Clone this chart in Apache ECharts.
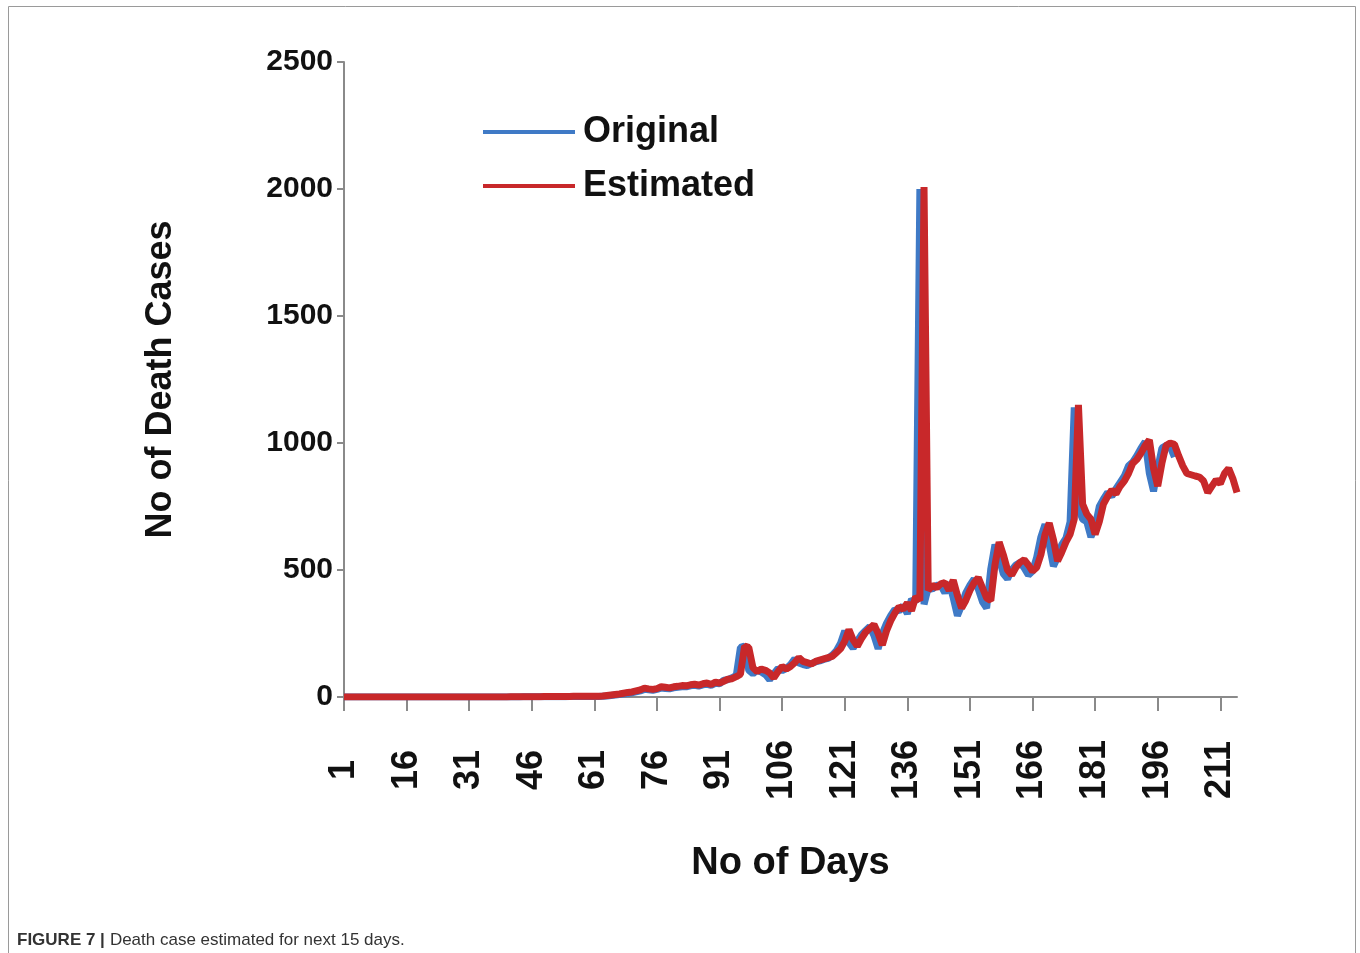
<!DOCTYPE html>
<html>
<head>
<meta charset="utf-8">
<script src="https://cdn.jsdelivr.net/npm/echarts@6/dist/echarts.min.js"></script>
<style>
html,body{margin:0;padding:0;background:#fff;}
#chart{width:1360px;height:953px;}
</style>
</head>
<body>
<div id="chart"></div>
<script>
// Days 1..215 (category axis)
const days = [];
for (let d = 1; d <= 215; d++) days.push(String(d));

const yTicks = [0, 500, 1000, 1500, 2000, 2500];

// Original death cases (days 1..200)
const original = [
  0,0,0,0,0,0,0,0,0,0, 0,0,0,0,0,0,0,0,0,0,
  0,0,0,0,0,0,0,0,0,0, 0,0,0,0,0,0,0,0,0,0,
  0,0,0,1,1,1,1,1,1,1, 1,1,1,1,2,2,2,2,2,2,
  2,
  2,3,4,6,8,10,12,14,17,20,24,30,28,26,30,35,33,32,36,38,40,40,44,46,43,48,50,46,54,52,
  66,68,76,85,195,200,105,92,105,98,88,68,92,112,104,112,128,150,134,128,
  124,132,138,142,148,152,165,182,212,260,215,192,220,245,262,278,242,190,250,290,
  320,345,338,360,328,385,372,2000,365,430,425,440,440,410,450,390,320,360,410,440,
  465,425,375,350,505,600,545,485,465,500,520,530,508,480,495,550,630,680,600,515,
  550,600,625,690,1140,740,700,690,630,670,750,780,805,790,820,845,870,910,925,950,
  980,1005,880,810,900,980,990,985,945
];

// Estimated death cases (days 1..215)
const estimated = [
  0,0,0,0,0,0,0,0,0,0, 0,0,0,0,0,0,0,0,0,0,
  0,0,0,0,0,0,0,0,0,0, 0,0,0,0,0,0,0,0,0,0,
  1,1,1,1,1,1,1,1,2,2, 2,2,2,2,2,3,3,3,3,3,
  3,
  3,4,6,8,10,12,15,18,20,24,28,35,32,30,33,40,38,36,40,42,45,44,48,50,47,52,55,50,58,55,
  62,70,72,80,90,200,195,115,100,110,105,95,75,100,120,110,120,135,155,140,
  135,130,140,145,150,155,160,175,190,220,265,225,200,230,255,270,285,250,205,260,
  300,330,355,345,370,340,395,380,2008,420,440,430,445,450,420,460,400,350,380,420,
  450,470,430,390,380,520,610,560,500,480,510,530,540,520,495,510,560,640,685,620,
  535,570,610,640,700,1150,760,720,700,640,690,760,790,815,800,830,850,880,920,935,
  960,990,1012,900,830,920,990,1000,995,950,910,880,875,870,866,850,805,830,855,840,
  880,900,860,805
];

const chart = echarts.init(document.getElementById('chart'));
const font = 'Liberation Sans, Arial, sans-serif';

chart.setOption({
  backgroundColor: '#ffffff',
  animation: false,
  title: {
    left: 12, top: 926,
    text: '{b|FIGURE 7 |} {n|Death case estimated for next 15 days.}',
    textStyle: {
      fontWeight: 'normal',
      rich: {
        b: {fontFamily: font, fontSize: 17, fontWeight: 'bold', color: '#333'},
        n: {fontFamily: font, fontSize: 17, fontWeight: 'normal', color: '#333'}
      }
    }
  },
  graphic: [{
    type: 'rect', silent: true, z: -1,
    shape: {x: 8.5, y: 6.5, width: 1347, height: 960},
    style: {fill: 'none', stroke: '#9a9a9a', lineWidth: 1}
  }],
  legend: {
    orient: 'vertical',
    left: 483, top: 114,
    padding: 0,
    itemWidth: 92, itemHeight: 4,
    itemGap: 18,
    icon: 'rect',
    textStyle: {fontFamily: font, fontSize: 36, fontWeight: 'bold', color: '#111', lineHeight: 36, padding: [0,0,0,3]},
    data: ['Original', 'Estimated']
  },
  grid: {left: 344, right: 123, top: 62, bottom: 256, containLabel: false},
  xAxis: {
    type: 'category',
    data: days,
    boundaryGap: false,
    name: 'No of Days',
    nameLocation: 'middle',
    nameGap: 148,
    nameTextStyle: {fontFamily: font, fontSize: 38, fontWeight: 'bold', color: '#111'},
    axisLine: {lineStyle: {color: '#8a8a8a', width: 2}},
    axisTick: {interval: 14, length: 14, lineStyle: {color: '#8a8a8a', width: 2}},
    axisLabel: {
      interval: 14, rotate: 90, margin: 73, align: 'center', verticalAlign: 'middle',
      fontFamily: font, fontSize: 36, fontWeight: 'bold', color: '#111'
    },
    splitLine: {show: false}
  },
  yAxis: {
    type: 'value',
    min: yTicks[0], max: yTicks[yTicks.length - 1], interval: 500,
    name: 'No of Death Cases',
    nameLocation: 'middle',
    nameGap: 165,
    nameRotate: 90,
    nameTextStyle: {fontFamily: font, fontSize: 36, fontWeight: 'bold', color: '#111'},
    axisLine: {show: true, lineStyle: {color: '#8a8a8a', width: 2}},
    axisTick: {show: true, length: 7, lineStyle: {color: '#8a8a8a', width: 2}},
    axisLabel: {
      margin: 11, fontFamily: font, fontSize: 30, fontWeight: 'bold', color: '#111',
      formatter: function (v) { return String(v); }
    },
    splitLine: {show: false}
  },
  series: [
    {
      name: 'Original', type: 'line', data: original,
      showSymbol: false, symbol: 'none',
      color: '#3f7ac6',
      lineStyle: {color: '#3f7ac6', width: 7},
      z: 2
    },
    {
      name: 'Estimated', type: 'line', data: estimated,
      showSymbol: false, symbol: 'none',
      color: '#c8282a',
      lineStyle: {color: '#c8282a', width: 7},
      z: 3
    }
  ]
});
</script>
</body>
</html>
